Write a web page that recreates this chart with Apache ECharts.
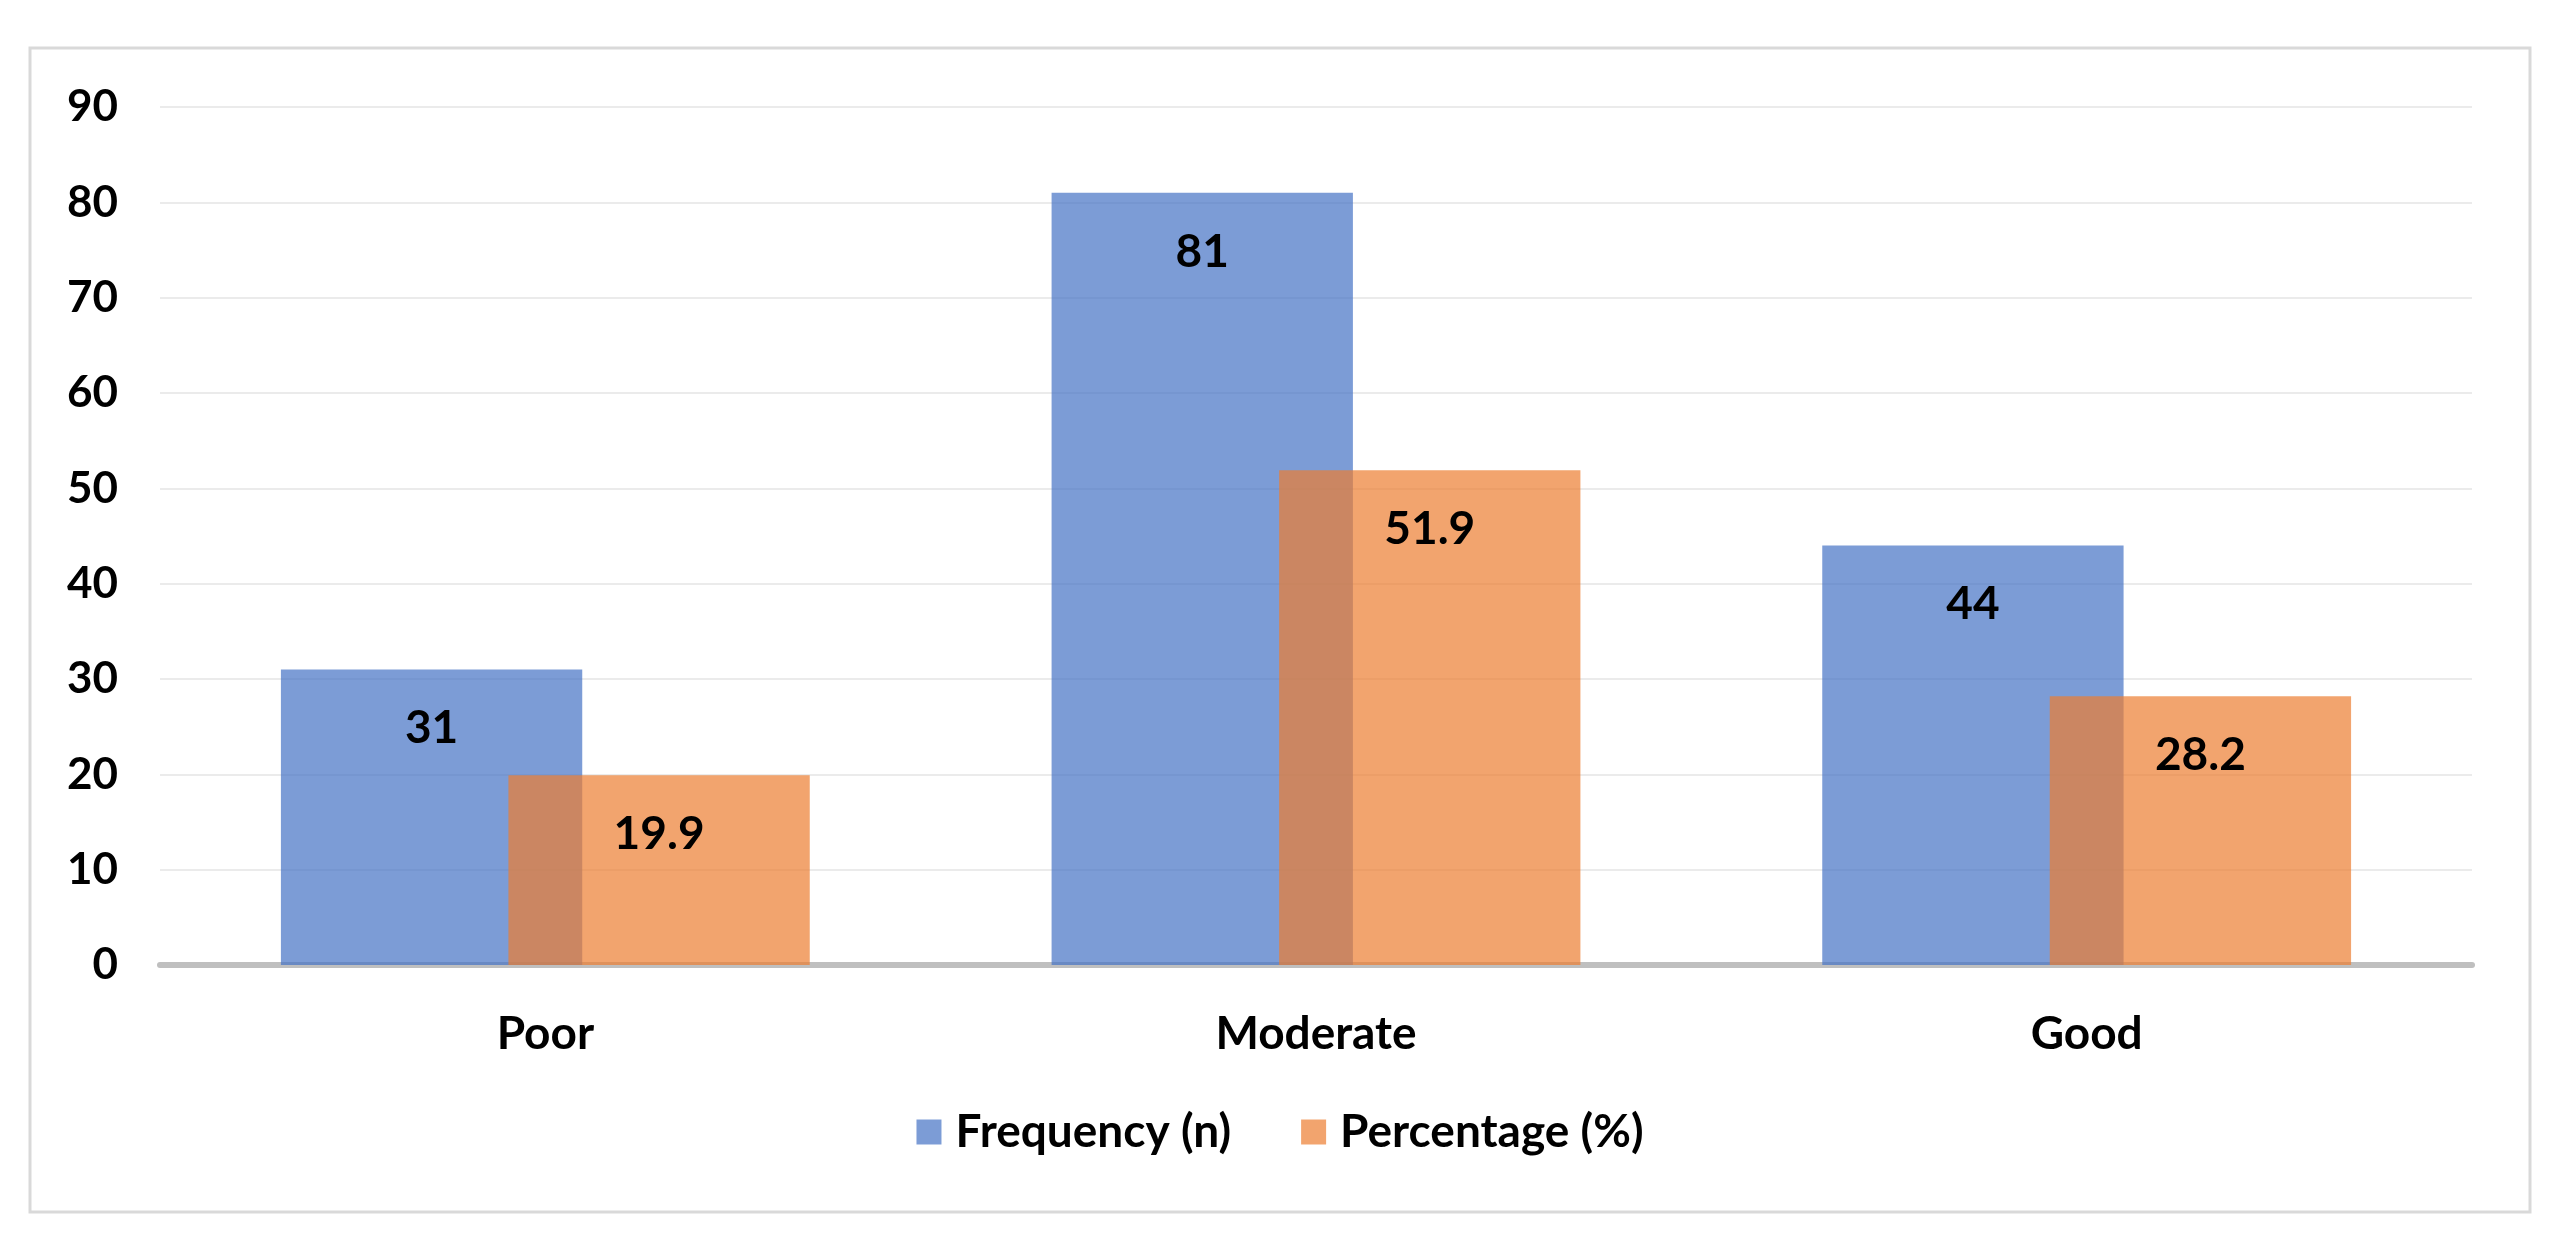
<!DOCTYPE html>
<html>
<head>
<meta charset="utf-8">
<script src="https://cdn.jsdelivr.net/npm/echarts@6/dist/echarts.min.js"></script>
<style>
html,body{margin:0;padding:0;background:#fff;}
#c{width:2560px;height:1260px;}
</style>
</head>
<body>
<div id="c"></div>
<script>
const categories = ['Poor', 'Moderate', 'Good'];
const frequency = [31, 81, 44];
const percentage = [19.9, 51.9, 28.2];
const seriesNames = ['Frequency (n)', 'Percentage (%)'];

const FONT = 'Lato';
const chart = echarts.init(document.getElementById('c'), null, {renderer: 'canvas'});
const labelStyle = {
  show: true,
  position: 'insideTop',
  distance: 36,
  fontFamily: FONT,
  fontWeight: 'bold',
  fontSize: 46,
  color: '#000',
  opacity: 1
};
chart.setOption({
  backgroundColor: '#fff',
  animation: false,
  graphic: [{
    type: 'rect',
    shape: {x: 30, y: 48, width: 2500, height: 1164},
    style: {fill: 'none', stroke: '#d9d9d9', lineWidth: 3},
    silent: true,
    z: -10
  }],
  grid: {left: 160, right: 88, top: 107, bottom: 295, containLabel: false},
  legend: {
    data: seriesNames,
    bottom: 100,
    left: 'center',
    icon: 'rect',
    itemWidth: 25,
    itemHeight: 25,
    itemGap: 70,
    textStyle: {fontFamily: FONT, fontWeight: 'bold', fontSize: 46, color: '#000', padding: [0, 0, 0, 9]}
  },
  xAxis: {
    type: 'category',
    data: categories,
    axisLine: {show: true, lineStyle: {color: '#bfbfbf', width: 6}},
    axisTick: {show: false},
    axisLabel: {margin: 46, fontFamily: FONT, fontWeight: 'bold', fontSize: 46, color: '#000'}
  },
  yAxis: {
    type: 'value',
    min: 0,
    max: 90,
    interval: 10,
    axisLine: {show: false},
    axisTick: {show: false},
    splitLine: {show: true, lineStyle: {color: '#ebebeb', width: 2}},
    axisLabel: {margin: 42, fontFamily: FONT, fontWeight: 'bold', fontSize: 44, color: '#000'}
  },
  series: [
    {
      name: seriesNames[0],
      type: 'bar',
      data: frequency,
      barWidth: '39.1%',
      barGap: '-24.5%',
      itemStyle: {color: 'rgba(68,114,196,0.7)'},
      label: labelStyle
    },
    {
      name: seriesNames[1],
      type: 'bar',
      data: percentage,
      barWidth: '39.1%',
      barGap: '-24.5%',
      itemStyle: {color: 'rgba(237,125,49,0.7)'},
      label: labelStyle
    }
  ]
});
</script>
</body>
</html>
